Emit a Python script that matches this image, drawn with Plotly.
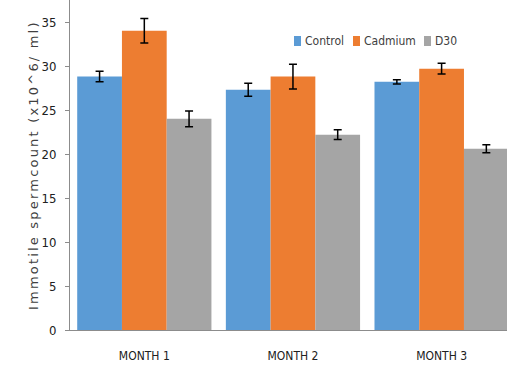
import plotly.graph_objects as go

# Immotile sperm count by month and treatment group (mean ± error)
months = ["MONTH 1", "MONTH 2", "MONTH 3"]
control = [28.8, 27.3, 28.2]
control_err = [0.6, 0.75, 0.25]
cadmium = [34.0, 28.8, 29.7]
cadmium_err = [1.4, 1.4, 0.6]
d30 = [24.0, 22.2, 20.6]
d30_err = [0.9, 0.55, 0.45]

y_ticks = [0, 5, 10, 15, 20, 25, 30, 35]

series = [
    ("Control", control, control_err, "#5B9BD5"),
    ("Cadmium", cadmium, cadmium_err, "#ED7D31"),
    ("D30", d30, d30_err, "#A5A5A5"),
]

narrow = "DejaVu Sans Condensed, Liberation Sans Narrow, Arial Narrow, sans-serif"

fig = go.Figure()
for name, vals, errs, color in series:
    fig.add_trace(go.Bar(
        name=name,
        x=months,
        y=vals,
        marker=dict(color=color, line=dict(width=0)),
        error_y=dict(type="data", array=errs, visible=True,
                     color="#000000", thickness=1.5, width=4),
        showlegend=False,
    ))

# compact legend row drawn as small swatches with labels
PLOT_W, PLOT_H, LEFT, BOTTOM = 437, 330, 70, 36
legend_x = [294, 353, 424]   # swatch left edges, px
legend_y = 41                # row centre, px from top
shapes = []
annotations = []
for (name, _, _, color), px in zip(series, legend_x):
    x0 = (px - LEFT) / PLOT_W
    x1 = (px + 7 - LEFT) / PLOT_W
    yc = (PLOT_H - legend_y) / PLOT_H
    shapes.append(dict(type="rect", xref="paper", yref="paper",
                       x0=x0, x1=x1, y0=yc - 5 / PLOT_H, y1=yc + 5 / PLOT_H,
                       fillcolor=color, line=dict(width=0)))
    annotations.append(dict(text=name, xref="paper", yref="paper",
                            x=(px + 9 - LEFT) / PLOT_W, y=yc,
                            xanchor="left", yanchor="middle", showarrow=False,
                            font=dict(family=narrow, size=12, color="#404040")))

# widely tracked vertical axis title
annotations.append(dict(
    text='<span style="letter-spacing:2.2px">Immotile spermcount (x10^6/ ml)</span>',
    xref="paper", yref="paper",
    x=(33 - LEFT) / PLOT_W, y=0.5,
    xanchor="center", yanchor="middle",
    textangle=-90,
    showarrow=False,
    font=dict(family="DejaVu Sans, Verdana, sans-serif", size=13, color="#404040"),
))

fig.update_layout(
    width=507,
    height=366,
    margin=dict(l=LEFT, r=0, t=0, b=BOTTOM),
    paper_bgcolor="white",
    plot_bgcolor="white",
    barmode="group",
    bargap=0.097,
    bargroupgap=0,
    showlegend=False,
    xaxis=dict(
        range=[-0.5, 2.44],
        showline=True,
        linecolor="#8c8c8c",
        linewidth=1,
        ticks="",
        tickfont=dict(family=narrow, size=12, color="#202020"),
        ticklabelstandoff=15,
        showgrid=False,
        zeroline=False,
    ),
    yaxis=dict(
        range=[0, 37.5],
        tickvals=y_ticks,
        showline=True,
        linecolor="#8c8c8c",
        linewidth=1,
        ticks="outside",
        ticklen=4,
        tickcolor="#8c8c8c",
        tickfont=dict(family=narrow, size=13, color="#202020"),
        ticklabelstandoff=6,
        showgrid=False,
        zeroline=False,
    ),
    shapes=shapes,
    annotations=annotations,
)

fig.write_html("out.html")
